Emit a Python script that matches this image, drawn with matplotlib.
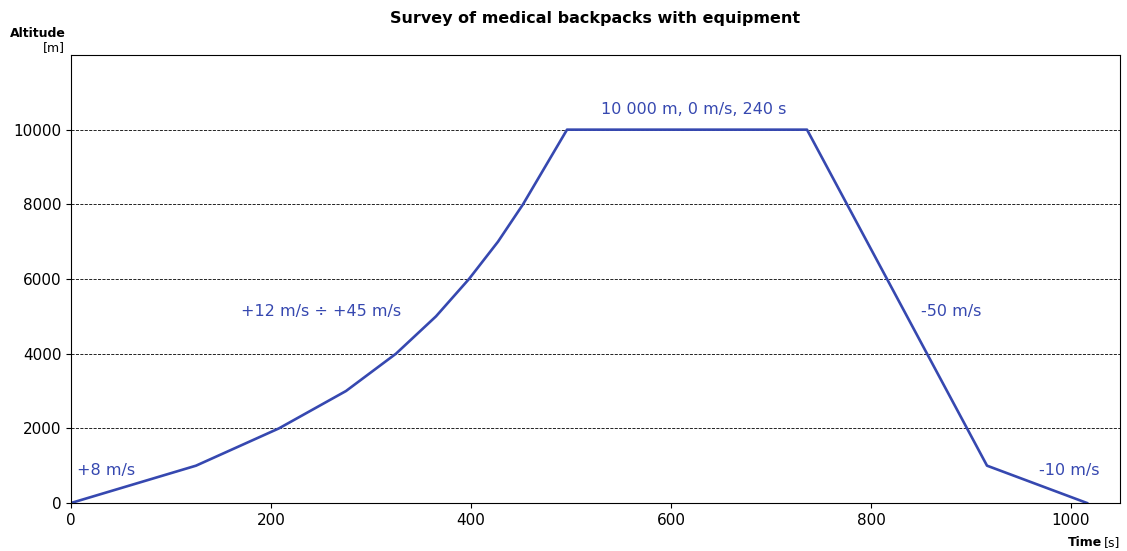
import matplotlib
matplotlib.use('Agg')
import matplotlib.pyplot as plt

# flight profile
time_s = [0, 125, 208, 275, 325, 365, 398, 427, 452, 496, 736, 916, 1016]
altitude_m = [0, 1000, 2000, 3000, 4000, 5000, 6000, 7000, 8000, 10000, 10000, 1000, 0]

labels = ["+8 m/s", "+12 m/s \u00f7 +45 m/s", "10 000 m, 0 m/s, 240 s", "-50 m/s", "-10 m/s"]
label_x = [6, 170, 530, 850, 968]
label_y = [880, 5130, 10530, 5130, 880]

COLOR = '#3648B0'

fig = plt.figure(figsize=(11.27, 5.51), dpi=100)
ax = fig.add_axes([0.063, 0.0871, 0.9308, 0.8131])

ax.plot(time_s, altitude_m, color=COLOR, lw=1.9)
for txt, x, y in zip(labels, label_x, label_y):
    ax.text(x, y, txt, color=COLOR, fontsize=11.5, ha='left', va='center')

ax.set_xlim(0, 1049)
ax.set_ylim(0, 12000)
ax.set_xticks(range(0, 1001, 200))
ax.set_yticks(range(0, 10001, 2000))
ax.tick_params(labelsize=11)
ax.grid(axis='y', linestyle='--', color='black', lw=0.6)

ax.set_title("Survey of medical backpacks with equipment", fontsize=11.5,
             fontweight='bold', pad=23)

fig.text(0.058, 0.94, "Altitude", fontsize=9, fontweight='bold', ha='right', va='center')
fig.text(0.058, 0.914, "[m]", fontsize=9, ha='right', va='center')
fig.text(0.9938, 0.015, "[s]", fontsize=9, ha='right', va='center')
fig.text(0.978, 0.015, "Time", fontsize=9, fontweight='bold', ha='right', va='center')

plt.savefig('out.png', dpi=100)
plt.close()
